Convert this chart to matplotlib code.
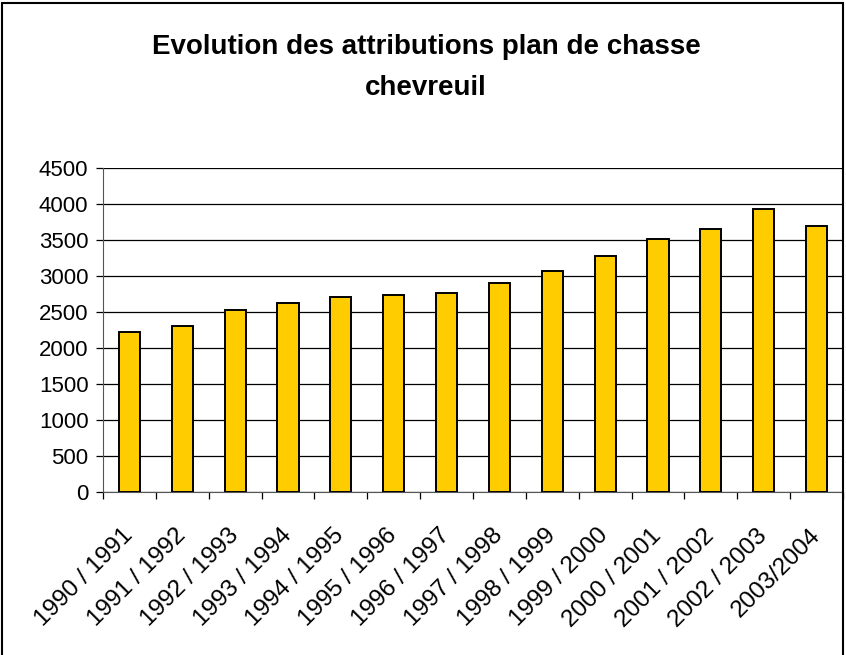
import matplotlib.pyplot as plt
import matplotlib.transforms as mtransforms
from matplotlib.patches import Rectangle

# Data
seasons = ["1990 / 1991", "1991 / 1992", "1992 / 1993", "1993 / 1994", "1994 / 1995",
           "1995 / 1996", "1996 / 1997", "1997 / 1998", "1998 / 1999", "1999 / 2000",
           "2000 / 2001", "2001 / 2002", "2002 / 2003", "2003/2004"]
attributions = [2217, 2300, 2522, 2625, 2708, 2736, 2758,
                2897, 3064, 3272, 3518, 3657, 3925, 3689]
yticks = [0, 500, 1000, 1500, 2000, 2500, 3000, 3500, 4000, 4500]

plt.rcParams['font.family'] = ['Liberation Sans', 'DejaVu Sans']

W, H = 846, 655
fig = plt.figure(figsize=(W / 100, H / 100), dpi=100)

# Plot area in pixel coords: left 103, right 843, top 168, bottom 492
ax = fig.add_axes([103 / W, 1 - 492 / H, (843 - 103) / W, (492 - 168) / H])

x = list(range(len(seasons)))
ax.bar(x, attributions, width=0.4, color='#FFCC00', edgecolor='black', linewidth=1.4, zorder=3)

ax.set_xlim(-0.5, len(seasons) - 0.5)
ax.set_ylim(0, 4500)
ax.set_yticks(yticks)
ax.set_yticklabels([str(v) for v in yticks], fontsize=16)
ax.yaxis.grid(True, color='black', linewidth=0.9, zorder=0)

ax.set_xticks([i - 0.5 for i in x] + [len(seasons) - 0.5], minor=True)
ax.set_xticks(x)
ax.set_xticklabels(seasons, fontsize=17.5, rotation=45, ha='right', va='center',
                   rotation_mode='anchor')
shift = mtransforms.ScaledTranslation(-5 / 100, 0, fig.dpi_scale_trans)
for lbl in ax.get_xticklabels():
    lbl.set_transform(lbl.get_transform() + shift)
ax.tick_params(axis='x', which='major', length=0, pad=29)
ax.tick_params(axis='x', which='minor', length=5, width=0.9, direction='out')
ax.tick_params(axis='y', length=5, width=0.9, direction='out', pad=5.5)

for side in ['top', 'right']:
    ax.spines[side].set_visible(False)
ax.spines['left'].set_color('#555555')
ax.spines['bottom'].set_color('#555555')

fig.text(426 / W, 1 - 47 / H, "Evolution des attributions plan de chasse",
         ha='center', va='center', fontsize=20, fontweight='bold')
fig.text(426 / W, 1 - 88 / H, "chevreuil",
         ha='center', va='center', fontsize=20, fontweight='bold')

# Outer border of the chart
fig.patches.append(Rectangle((2 / W, -0.01), (843 - 2) / W, 1 - 3 / H + 0.01,
                             transform=fig.transFigure, fill=False,
                             edgecolor='black', linewidth=1.5))

fig.savefig("out.png", dpi=100)
